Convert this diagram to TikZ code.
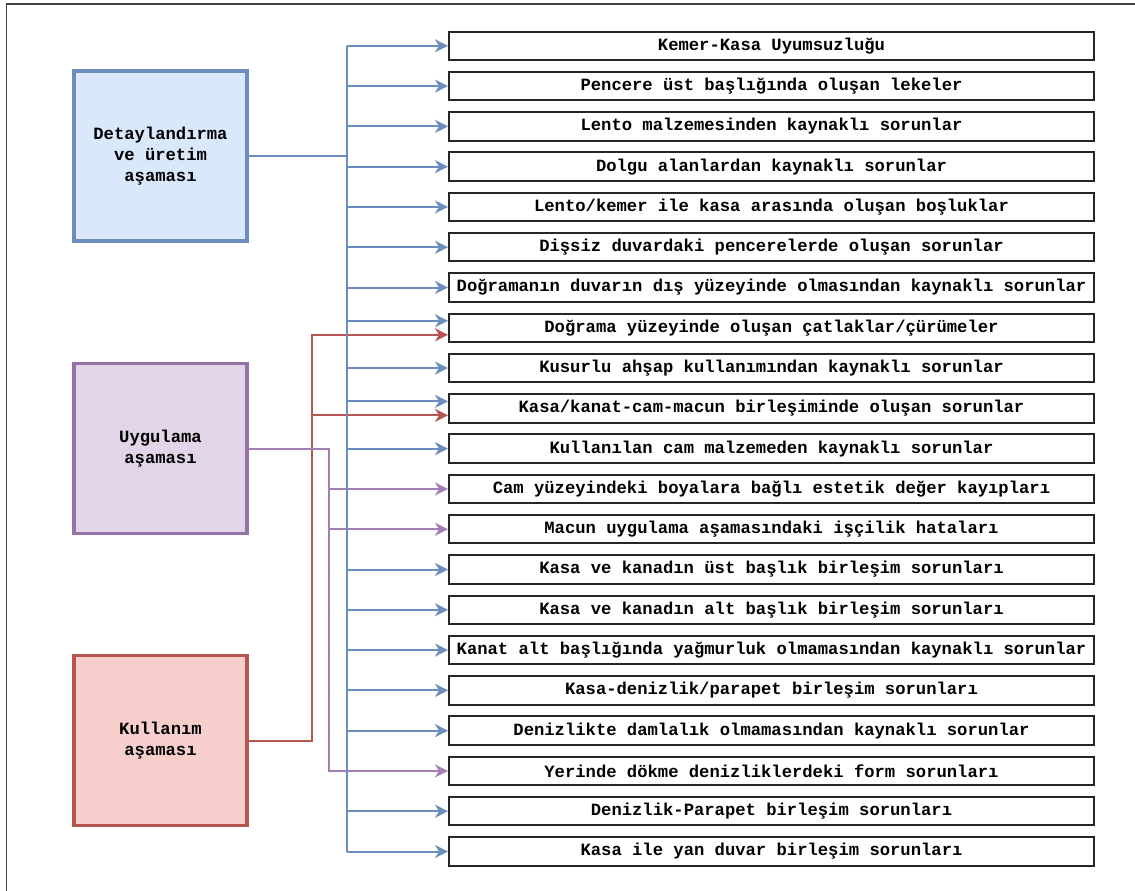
\documentclass[tikz,border=0pt]{standalone}
\usepackage{fontspec}
\setmainfont{Liberation Mono}
\usetikzlibrary{arrows.meta}
\definecolor{bstroke}{HTML}{6C8EBF}
\definecolor{bfill}{HTML}{DAE8FC}
\definecolor{pstroke}{HTML}{9673A6}
\definecolor{pline}{HTML}{A27FB5}
\definecolor{pfill}{HTML}{E1D5E7}
\definecolor{rstroke}{HTML}{B85450}
\definecolor{rfill}{HTML}{F8CECC}
\definecolor{frame}{HTML}{444444}
\tikzset{
  item/.style={draw=black!85, line width=2pt, fill=white, anchor=west,
    minimum width=645pt, minimum height=28.5pt, inner sep=0pt,
    font=\fontsize{17.2}{21}\bfseries\selectfont},
  stage/.style={line width=3.5pt, minimum width=173pt, minimum height=170pt,
    inner sep=0pt, align=center, font=\fontsize{17.2}{21}\bfseries\selectfont},
  tip/.style={-{Stealth[length=13pt,width=13pt,inset=4pt]}},
  bcon/.style={draw=bstroke, line width=2pt},
  pcon/.style={draw=pline, line width=2pt},
  rcon/.style={draw=rstroke, line width=2pt},
}
\begin{document}
\begin{tikzpicture}[x=1pt,y=-1pt]
\useasboundingbox (0,0) rectangle (1135,891);
\draw[frame, line width=1.5pt] (6.5,891) -- (6.5,4) -- (1135,4);
\foreach \i/\t in {
1/Kemer-Kasa Uyumsuzluğu,
2/Pencere üst başlığında oluşan lekeler,
3/Lento malzemesinden kaynaklı sorunlar,
4/Dolgu alanlardan kaynaklı sorunlar,
5/Lento\slash kemer ile kasa arasında oluşan boşluklar,
6/Dişsiz duvardaki pencerelerde oluşan sorunlar,
7/Doğramanın duvarın dış yüzeyinde olmasından kaynaklı sorunlar,
8/Doğrama yüzeyinde oluşan çatlaklar\slash çürümeler,
9/Kusurlu ahşap kullanımından kaynaklı sorunlar,
10/Kasa\slash kanat-cam-macun birleşiminde oluşan sorunlar,
11/Kullanılan cam malzemeden kaynaklı sorunlar,
12/Cam yüzeyindeki boyalara bağlı estetik değer kayıpları,
13/Macun uygulama aşamasındaki işçilik hataları,
14/Kasa ve kanadın üst başlık birleşim sorunları,
15/Kasa ve kanadın alt başlık birleşim sorunları,
16/Kanat alt başlığında yağmurluk olmamasından kaynaklı sorunlar,
17/Kasa-denizlik\slash parapet birleşim sorunları,
18/Denizlikte damlalık olmamasından kaynaklı sorunlar,
19/Yerinde dökme denizliklerdeki form sorunları,
20/Denizlik-Parapet birleşim sorunları,
21/Kasa ile yan duvar birleşim sorunları}
  \node[item] (b\i) at (448, {45.8+(\i-1)*40.285}) {\t};
\node[stage, draw=bstroke, fill=bfill] (det) at (160.5,156) {Detaylandırma\\ve üretim\\aşaması};
\node[stage, draw=pstroke, fill=pfill] (uyg) at (160.5,448.5) {Uygulama\\aşaması};
\node[stage, draw=rstroke, fill=rfill] (kul) at (160.5,740.5) {Kullanım\\aşaması};
\coordinate (bx) at (347,0);
\coordinate (px) at (329,0);
\coordinate (rx) at (312,0);
% red
\draw[rcon, tip] (kul.east) -| ([yshift=-7pt]b8.west -| rx) -- ([yshift=-7pt]b8.west);
\draw[rcon, tip] ([yshift=-7pt]b10.west -| rx) -- ([yshift=-7pt]b10.west);
% purple
\draw[pcon, tip] (uyg.east) -- (uyg.east -| px) -- (b19.west -| px) -- (b19.west);
\foreach \i in {12,13}
  \draw[pcon, tip] (b\i.west -| px) -- (b\i.west);
% blue
\draw[bcon] (det.east) -- (det.east -| bx);
\draw[bcon] (b1.west -| bx) -- (b21.west -| bx);
\foreach \i in {1,2,3,4,5,6,7,9,11,14,15,16,17,18,20,21}
  \draw[bcon, tip] (b\i.west -| bx) -- (b\i.west);
\foreach \i in {8,10}
  \draw[bcon, tip] ([yshift=7pt]b\i.west -| bx) -- ([yshift=7pt]b\i.west);
\end{tikzpicture}
\end{document}
